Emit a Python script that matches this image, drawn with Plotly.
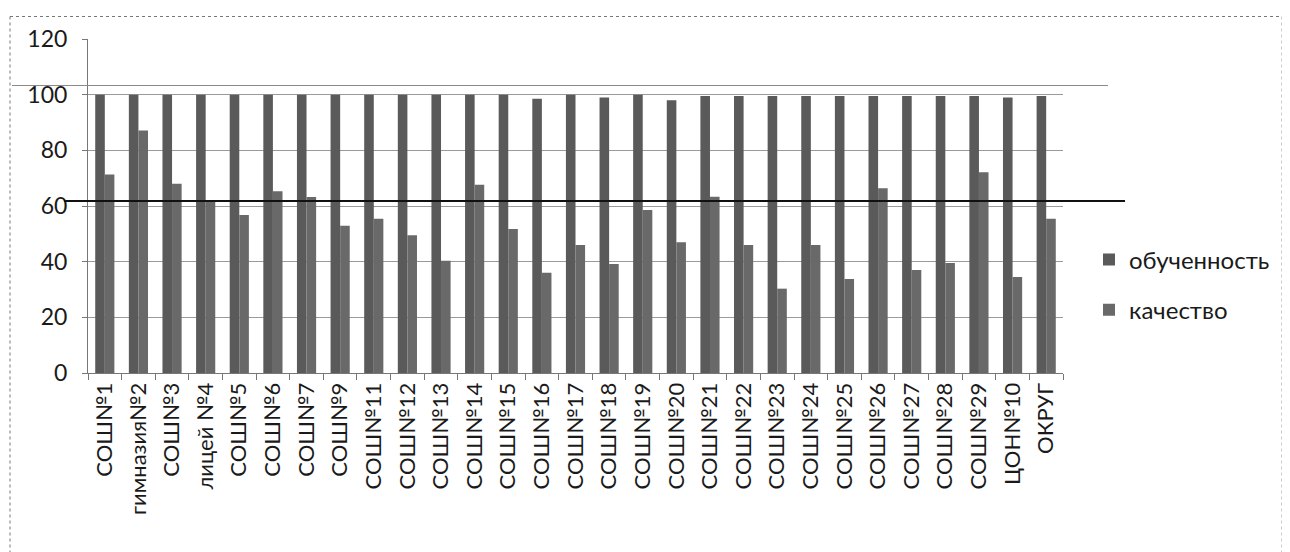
import plotly.graph_objects as go

categories = ["СОШ№1", "гимназия№2", "СОШ№3", "лицей №4", "СОШ№5", "СОШ№6", "СОШ№7",
              "СОШ№9", "СОШ№11", "СОШ№12", "СОШ№13", "СОШ№14", "СОШ№15", "СОШ№16",
              "СОШ№17", "СОШ№18", "СОШ№19", "СОШ№20", "СОШ№21", "СОШ№22", "СОШ№23",
              "СОШ№24", "СОШ№25", "СОШ№26", "СОШ№27", "СОШ№28", "СОШ№29", "ЦОН№10", "ОКРУГ"]

obuchennost = [100, 100, 100, 100, 100, 100, 100, 100, 100, 100, 100, 100, 100, 98.5,
               100, 99, 100, 98, 99.5, 99.5, 99.5, 99.5, 99.5, 99.5, 99.5, 99.5, 99.5, 99, 99.5]

kachestvo = [71.3, 87.1, 68, 62, 56.8, 65.3, 63.2, 52.9, 55.4, 49.5, 40.3, 67.6, 51.7, 36,
             46, 39.2, 58.6, 47, 63.3, 46, 30.3, 46, 33.8, 66.4, 37, 39.5, 72.1, 34.5, 55.4]

series_names = ["обученность", "качество"]
y_ticks = [0, 20, 40, 60, 80, 100, 120]
average_line = 61.8
scan_line = 103.3

FONT = "Lato"

fig = go.Figure()
fig.add_trace(go.Bar(x=categories, y=obuchennost, name=series_names[0],
                     marker=dict(color="#5a5a5a", line=dict(width=0)),
                     legendgroup="a"))
fig.add_trace(go.Bar(x=categories, y=kachestvo, name=series_names[1],
                     marker=dict(color="#696969", line=dict(width=0)),
                     legendgroup="b"))

# screen geometry (page has an 8px body margin)
OFF = 8
L, R = 88, 1063
T, B = 38.5, 372.7
W, H = 1290 - OFF, 552 - OFF


def px(x):
    return (x - L) / (R - L)


def py(y):
    return (B - y) / (B - T)


shapes = [
    dict(type="line", xref="paper", yref="y", x0=px(12), x1=px(1108),
         y0=scan_line, y1=scan_line, line=dict(color="#8a8a8a", width=1.2)),
    dict(type="line", xref="paper", yref="y", x0=px(64), x1=px(1125),
         y0=average_line, y1=average_line, line=dict(color="#111111", width=2.2)),
    dict(type="line", xref="paper", yref="paper", x0=px(10), x1=px(1284),
         y0=py(16), y1=py(16), line=dict(color="#777777", width=1, dash="dot")),
    dict(type="line", xref="paper", yref="paper", x0=px(10), x1=px(10),
         y0=py(16), y1=py(552), line=dict(color="#777777", width=1, dash="dot")),
    dict(type="line", xref="paper", yref="paper", x0=px(1282), x1=px(1282),
         y0=py(16), y1=py(552), line=dict(color="#999999", width=1, dash="dot")),
]

fig.update_layout(
    width=W, height=H,
    margin=dict(l=L - OFF, r=W - (R - OFF), t=T - OFF, b=H - (B - OFF)),
    paper_bgcolor="white", plot_bgcolor="white",
    barmode="group", bargap=0.43, bargroupgap=0,
    font=dict(family=FONT, size=22, color="#1a1a1a"),
    showlegend=True,
    legend=dict(x=px(1089), xanchor="left", y=py(237), yanchor="top",
                font=dict(size=24, family=FONT, color="#1a1a1a"),
                tracegroupgap=16, itemwidth=30, bgcolor="rgba(0,0,0,0)"),
    shapes=shapes,
)

fig.update_xaxes(
    type="category", tickangle=-90, tickson="boundaries", ticks="outside",
    ticklen=6, tickcolor="#777777", showline=True, linecolor="#777777",
    linewidth=1, showgrid=False, tickfont=dict(size=22, family=FONT),
    range=[-0.5, len(categories) - 0.5],
)
fig.update_yaxes(
    range=[0, 120], tickvals=y_ticks, showgrid=True, gridcolor="#9a9a9a",
    gridwidth=1, showline=True, linecolor="#777777", linewidth=1,
    ticks="outside", ticklen=5, tickcolor="#777777",
    tickfont=dict(size=23, family=FONT), zeroline=False,
    ticklabelstandoff=10,
)

fig.write_html("out.html")
